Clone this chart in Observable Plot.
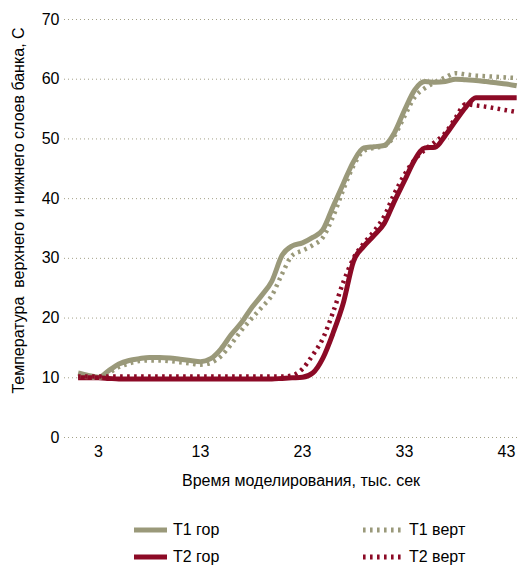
<!DOCTYPE html>
<html><head><meta charset="utf-8">
<script src="https://cdn.jsdelivr.net/npm/d3@7"></script>
<script src="https://cdn.jsdelivr.net/npm/@observablehq/plot@0.6"></script>
<style>
body{margin:0;background:#fff;font-family:"Liberation Sans",Arial,Helvetica,sans-serif;}
#chart svg{display:block;}
#legend{position:relative;width:525px;height:76px;font-size:16px;color:#000;}
.item{position:absolute;height:20px;display:flex;align-items:center;}
.item svg{display:block;margin-right:6px;}
</style></head><body>
<div id="chart"></div>
<div id="legend"></div>
<script>
const time = [1,2,3,4,5,6,7,8,9,10,11,12,13,14,15,16,17,18,19,20,21,22,23,24,25,26,27,28,29,30,31,32,33,34,35,36,37,38,39,40,41,42,43,44];
const t1Gor = [10.8,10.4,10.1,11.2,12.3,12.9,13.2,13.4,13.4,13.3,13.1,12.9,12.7,13.2,14.8,17.2,19.2,21.7,23.8,26.2,30.5,32.1,32.6,33.5,34.8,38.7,42.5,46.2,48.5,48.7,48.9,51.0,54.8,58.2,59.6,59.5,59.6,60.0,59.9,59.8,59.6,59.4,59.2,58.9];
const t1Vert = [10.3,10.1,10.0,10.8,11.8,12.4,12.8,12.9,12.9,12.8,12.6,12.4,12.2,12.5,13.6,15.6,17.9,19.9,21.8,23.8,27.4,30.5,31.3,32.2,33.5,37.0,41.5,45.5,48.0,48.5,48.8,50.5,53.8,57.0,58.5,59.5,60.3,61.0,60.8,60.6,60.5,60.4,60.3,60.2];
const t2Gor = [10.0,10.0,10.0,9.9,9.8,9.8,9.8,9.8,9.8,9.8,9.8,9.8,9.8,9.8,9.8,9.8,9.8,9.8,9.8,9.8,9.9,10.0,10.1,10.8,13.3,17.5,22.5,29.5,32.0,33.8,35.8,39.5,43.0,46.5,48.5,48.6,50.6,53.0,55.3,56.9,56.9,56.9,56.9,56.9];
const t2Vert = [10.2,10.2,10.2,10.2,10.2,10.2,10.2,10.2,10.2,10.2,10.2,10.2,10.2,10.2,10.2,10.2,10.2,10.2,10.2,10.2,10.2,10.4,11.5,13.8,16.6,21.0,26.0,30.0,32.5,34.5,37.0,40.8,44.0,46.5,48.2,49.5,51.0,53.5,55.8,55.6,55.4,55.1,54.8,54.5];
const xTicks = [3,13,23,33,43];
const yTicks = [0,10,20,30,40,50,60,70];
const seriesNames = ["T1 гор","T2 гор","T1 верт","T2 верт"];
const xLabel = "Время моделирования, тыс. сек";
const yLabel = "Температура  верхнего и нижнего слоев банка, С";

const GRAY = "#9a997a";
const RED = "#8c0a26";
const seriesList = [
  {name: seriesNames[0], values: t1Gor, color: GRAY, dash: null},
  {name: seriesNames[1], values: t2Gor, color: RED, dash: null},
  {name: seriesNames[2], values: t1Vert, color: GRAY, dash: "2.6,4.4"},
  {name: seriesNames[3], values: t2Vert, color: RED, dash: "2.6,4.4"}
];
const rowsOf = s => time.map((t, i) => ({t, v: s.values[i], name: s.name}));

const chart = Plot.plot({
  width: 525, height: 495,
  marginLeft: 64, marginRight: 8, marginTop: 19, marginBottom: 58,
  style: {fontFamily: '"Liberation Sans", Arial, sans-serif', fontSize: "16px", color: "#000", background: "#fff"},
  x: {domain: [-0.333, 44.08]},
  y: {domain: [0, 70]},
  marks: [
    Plot.ruleY(yTicks, {stroke: "#a3a188", strokeWidth: 1, strokeDasharray: "1,3"}),
    Plot.axisY({ticks: yTicks, tickSize: 0, tickPadding: 5, label: null, fontSize: 16}),
    Plot.axisX({ticks: xTicks, tickSize: 0, tickPadding: 8, label: null, fontSize: 16}),
    Plot.text([xLabel], {frameAnchor: "bottom", dx: 10, dy: 48, fontSize: 16, fill: "#000"}),
    Plot.text([yLabel], {frameAnchor: "left", textAnchor: "middle", dx: -46, dy: -18, rotate: -90, fontSize: 16, fill: "#000"}),
    ...seriesList.filter(s => !s.dash).map(s => Plot.line(rowsOf(s), {x: "t", y: "v", stroke: s.color, strokeWidth: 5, curve: "monotone-x", strokeLinecap: "butt"})),
    ...seriesList.filter(s => s.dash).map(s => Plot.line(rowsOf(s), {x: "t", y: "v", stroke: s.color, strokeWidth: 4.5, curve: "monotone-x", strokeDasharray: s.dash, strokeLinecap: "butt"}))
  ]
});
document.getElementById("chart").appendChild(chart);

const legend = document.getElementById("legend");
const pos = [
  {left: 134, top: 25}, {left: 134, top: 52},
  {left: 363, top: 25}, {left: 363, top: 52}
];
seriesList.forEach((s, i) => {
  const d = document.createElement("div");
  d.className = "item";
  d.style.left = pos[i].left + "px";
  d.style.top = pos[i].top + "px";
  const w = s.dash ? 40 : 33;
  d.innerHTML = `<svg width="${w}" height="10"><line x1="0" x2="${w}" y1="5" y2="5" stroke="${s.color}" stroke-width="5" ${s.dash ? `stroke-dasharray="${s.dash}"` : ""}/></svg><span>${s.name}</span>`;
  legend.appendChild(d);
});
</script>
</body></html>
